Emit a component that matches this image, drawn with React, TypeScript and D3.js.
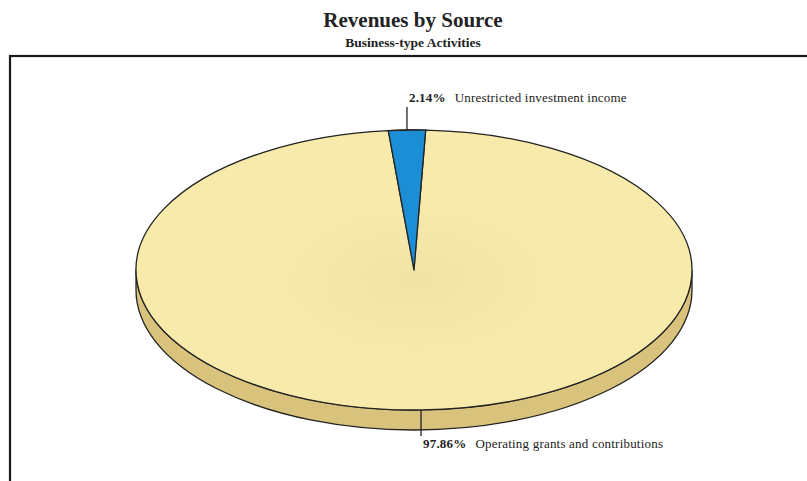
import React from 'react';
import * as d3 from 'd3';

const categories = ['Unrestricted investment income', 'Operating grants and contributions'];
const shares = [2.14, 97.86];
const shareLabels = ['2.14%', '97.86%'];

const W = 807;
const H = 481;
const cx = 414;
const cy = 270;
const rx = 278;
const ry = 140;
const depth = 20;
// rotation so the small slice sits just left of 12 o'clock
const startOffset = (-5.3 * Math.PI) / 180;

const faceColors = ['#1b8ed6', '#f8eaab'];
const sideColors = ['#12679c', '#d8c27c'];

// project an angle (clockwise from top) onto the tilted ellipse
const px = (a: number) => cx + rx * Math.sin(a);
const py = (a: number) => cy - ry * Math.cos(a);

export default function App() {
  const pie = d3
    .pie<number>()
    .sort(null)
    .value((d) => d)
    .startAngle(startOffset)
    .endAngle(startOffset + 2 * Math.PI);
  const arcs = pie(shares);

  // slice top faces drawn as ellipse sectors
  const facePath = (a0: number, a1: number) => {
    const large = a1 - a0 > Math.PI ? 1 : 0;
    return `M${cx},${cy}L${px(a0)},${py(a0)}A${rx},${ry} 0 ${large} 1 ${px(a1)},${py(a1)}Z`;
  };

  // front side wall for visible angles between PI/2 and 3PI/2
  const sidePath = (a0: number, a1: number) => {
    const s = Math.max(a0, Math.PI / 2);
    const e = Math.min(a1, (3 * Math.PI) / 2);
    if (e <= s) return null;
    const large = e - s > Math.PI ? 1 : 0;
    return (
      `M${px(s)},${py(s)}A${rx},${ry} 0 ${large} 1 ${px(e)},${py(e)}` +
      `L${px(e)},${py(e) + depth}A${rx},${ry} 0 ${large} 0 ${px(s)},${py(s) + depth}Z`
    );
  };

  const mids = arcs.map((a) => (a.startAngle + a.endAngle) / 2);

  return (
    <svg
      width={W}
      height={H}
      viewBox={`0 0 ${W} ${H}`}
      style={{ position: 'absolute', left: 0, top: 0, background: '#fff' }}
      fontFamily="'Liberation Serif', 'DejaVu Serif', serif"
    >
      <defs>
        <radialGradient id="faceShade" cx="50%" cy="50%" r="50%">
          <stop offset="0%" stopColor="#e9dca0" stopOpacity={0.55} />
          <stop offset="70%" stopColor="#efe2a6" stopOpacity={0.25} />
          <stop offset="100%" stopColor="#f8eaab" stopOpacity={0} />
        </radialGradient>
      </defs>

      <text x={413} y={27} textAnchor="middle" fontSize={21} fontWeight="bold" fill="#222">
        Revenues by Source
      </text>
      <text x={413} y={47} textAnchor="middle" fontSize={13.5} fontWeight="bold" fill="#222">
        Business-type Activities
      </text>

      {/* frame */}
      <rect x={10} y={56} width={820} height={460} fill="none" stroke="#1a1a1a" strokeWidth={2.2} />

      {/* side walls */}
      {arcs.map((a, i) => {
        const d = sidePath(a.startAngle, a.endAngle);
        return d ? (
          <path key={`side-${i}`} d={d} fill={sideColors[i]} stroke="#222" strokeWidth={1.3} />
        ) : null;
      })}

      {/* top faces */}
      {arcs.map((a, i) => (
        <path
          key={`face-${i}`}
          d={facePath(a.startAngle, a.endAngle)}
          fill={faceColors[i]}
          stroke="#222"
          strokeWidth={1.3}
          strokeLinejoin="round"
        />
      ))}
      <ellipse cx={cx} cy={cy + 10} rx={rx * 0.55} ry={ry * 0.6} fill="url(#faceShade)" pointerEvents="none" />
      <path
        d={facePath(arcs[0].startAngle, arcs[0].endAngle)}
        fill={faceColors[0]}
        stroke="#222"
        strokeWidth={1.3}
        strokeLinejoin="round"
      />

      {/* leader lines and labels */}
      {arcs.map((a, i) => {
        const m = mids[i];
        const top = Math.cos(m) > 0;
        const x = px(m);
        const y0 = py(m);
        const y1 = top ? y0 - 23 : y0 + depth + 6;
        const ty = top ? y1 - 5 : y1 + 12;
        return (
          <g key={`lab-${i}`}>
            <line x1={x} y1={y0} x2={x} y2={y1} stroke="#222" strokeWidth={1.3} />
            <text x={x + 2} y={ty} fontSize={13} letterSpacing={0.2} fill="#222">
              <tspan fontWeight="bold">{shareLabels[i]}</tspan>
              <tspan dx={9}>{categories[i]}</tspan>
            </text>
          </g>
        );
      })}
    </svg>
  );
}
